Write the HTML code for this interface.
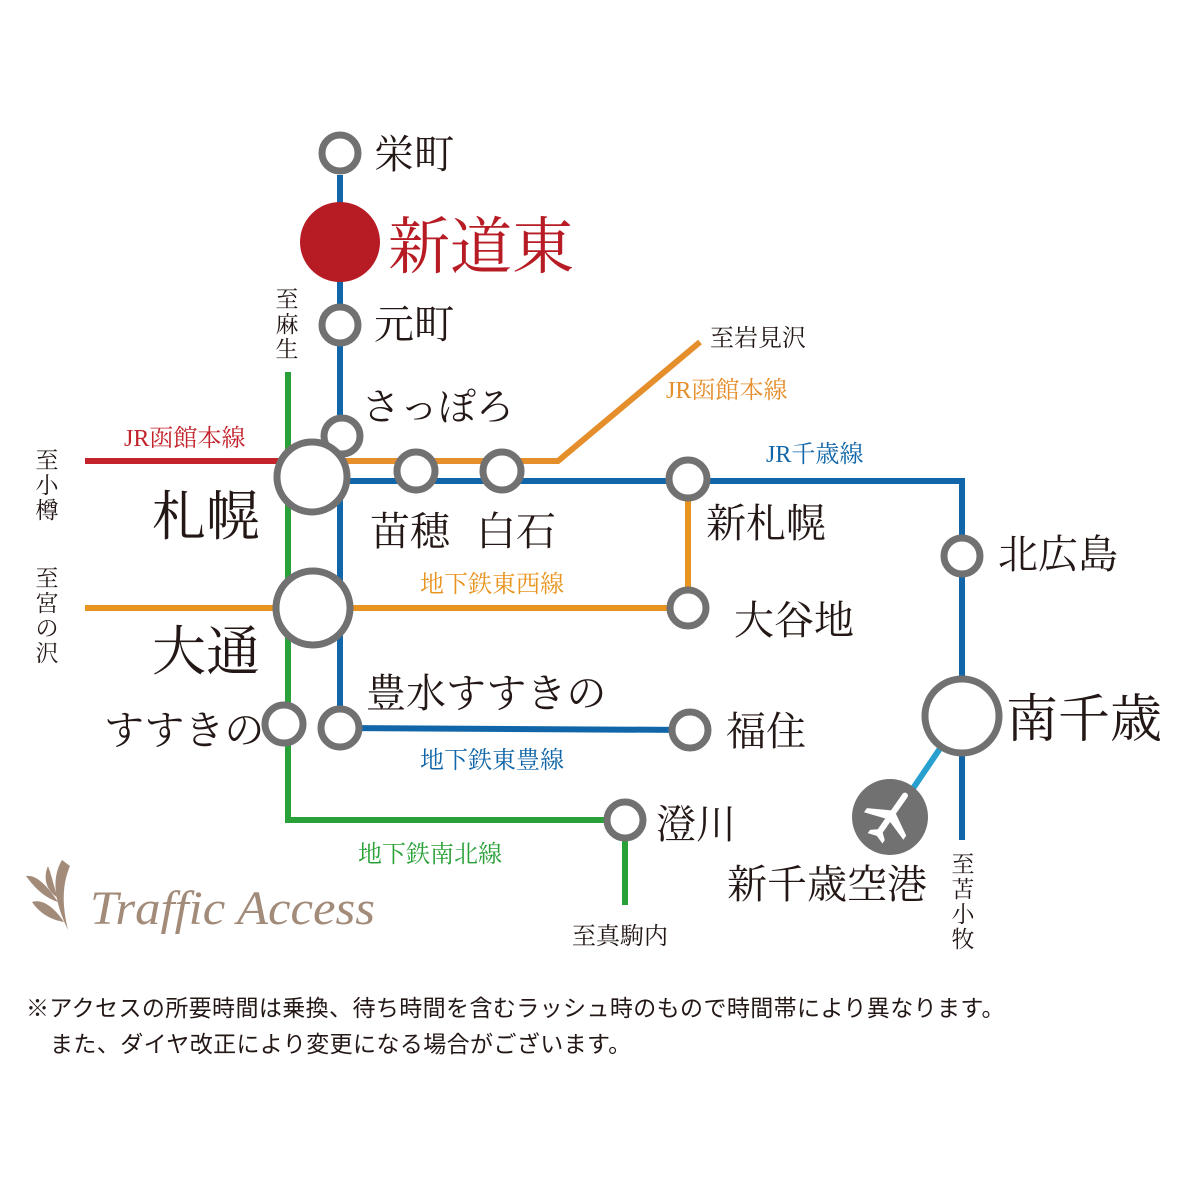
<!DOCTYPE html>
<html><head><meta charset="utf-8"><style>
html,body{margin:0;padding:0;background:#fff}
svg{display:block}
text{font-family:"Liberation Serif","Noto Serif CJK JP","Noto Serif CJK SC",serif;fill:#231815}
</style></head><body>
<svg width="1200" height="1200" viewBox="0 0 1200 1200" xmlns="http://www.w3.org/2000/svg">
<g fill="none" stroke-width="6">
<polyline points="288,372 288,820 625,820 625,905" stroke="#2aa138"/>
<line x1="85" y1="461" x2="285" y2="461" stroke="#c3242b"/>
<polyline points="340,461 558,461 700,342" stroke="#e58e2c"/>
<line x1="85" y1="608" x2="688" y2="608" stroke="#e8941e"/>
<line x1="688" y1="481" x2="688" y2="608" stroke="#e8941e"/>
<polyline points="340,175 340,728 690,730" stroke="#1066a8"/>
<polyline points="340,481 962,481 962,840" stroke="#1066a8"/>
<line x1="962" y1="716" x2="895" y2="815" stroke="#28a0cf"/>
</g>
<g fill="#fff" stroke="#717171" stroke-width="7">
<circle cx="340" cy="153" r="18"/>
<circle cx="340" cy="325" r="18"/>
<circle cx="342" cy="436" r="18"/>
<circle cx="312" cy="477" r="35"/>
<circle cx="416" cy="471" r="19"/>
<circle cx="502" cy="471" r="19"/>
<circle cx="688" cy="479" r="19"/>
<circle cx="688" cy="608" r="18"/>
<circle cx="313" cy="608" r="37"/>
<circle cx="284" cy="724" r="19"/>
<circle cx="340" cy="728" r="19"/>
<circle cx="690" cy="730" r="18"/>
<circle cx="625" cy="820" r="18"/>
<circle cx="962" cy="556" r="18"/>
<circle cx="962" cy="716" r="37"/>
</g>
<circle cx="340" cy="242" r="40" fill="#b71c25"/>
<circle cx="890" cy="817" r="38" fill="#717171"/>
<g transform="translate(890 817) rotate(35)" fill="#fff">
<path d="M-3,-26 C-3,-30 3,-30 3,-26 L3,-6 L24,6 L24,11 L3,4 L3,17 L9,22 L9,26 L0,23 L-9,26 L-9,22 L-3,17 L-3,4 L-24,11 L-24,6 L-3,-6 Z"/>
</g>

<text x="374" y="168" font-size="40">栄町</text>
<text x="388" y="268" font-size="62" style="fill:#b71c25">新道東</text>
<text x="374" y="338" font-size="40">元町</text>
<text x="362" y="420" font-size="38">さっぽろ</text>
<text x="152" y="535" font-size="54">札幌</text>
<text x="370" y="545" font-size="40">苗穂</text>
<text x="476" y="545" font-size="40">白石</text>
<text x="706" y="537" font-size="40">新札幌</text>
<text x="734" y="634" font-size="40">大谷地</text>
<text x="152" y="670" font-size="54">大通</text>
<text x="104" y="744" font-size="40">すすきの</text>
<text x="366" y="707" font-size="40">豊水すすきの</text>
<text x="726" y="745" font-size="40">福住</text>
<text x="656" y="838" font-size="40">澄川</text>
<text x="998" y="568" font-size="40">北広島</text>
<text x="1006" y="737" font-size="52">南千歳</text>
<text x="727" y="898" font-size="40">新千歳空港</text>

<g font-size="24">
<text x="124" y="446" style="fill:#c3242b">JR函館本線</text>
<text x="666" y="398" style="fill:#e58e2c">JR函館本線</text>
<text x="766" y="462" style="fill:#1066a8">JR千歳線</text>
<text x="420" y="592" style="fill:#e8941e">地下鉄東西線</text>
<text x="420" y="768" style="fill:#1066a8">地下鉄東豊線</text>
<text x="358" y="862" style="fill:#2aa138">地下鉄南北線</text>
<text x="710" y="346">至岩見沢</text>
<text x="572" y="944">至真駒内</text>
</g>
<g font-size="23" text-anchor="middle">
<text x="287" y="307">至</text><text x="287" y="332">麻</text><text x="287" y="357">生</text>
<text x="47" y="468">至</text><text x="47" y="493">小</text><text x="47" y="518">樽</text>
<text x="47" y="586">至</text><text x="47" y="611">宮</text><text x="47" y="636">の</text><text x="47" y="661">沢</text>
<text x="963" y="872">至</text><text x="963" y="897">苫</text><text x="963" y="922">小</text><text x="963" y="947">牧</text>
</g>

<g fill="#a38b7a">
<path d="M62,860 C50,880 56,905 68,930 C62,905 62,885 70,866 Z"/>
<path d="M26,876 C38,874 50,890 58,902 C46,898 36,890 26,876 Z"/>
<path d="M32,902 C44,898 56,910 64,922 C52,920 40,914 32,902 Z"/>
<path d="M48,866 C42,880 48,892 58,898 C54,888 52,876 48,866 Z"/>
</g>
<text x="90" y="924" font-size="48" font-style="italic" textLength="285" lengthAdjust="spacingAndGlyphs" style="fill:#a38b7a;font-family:'Liberation Serif',serif">Traffic Access</text>

<text x="26" y="1016" font-size="23" letter-spacing="0.4" style="font-family:'Liberation Sans','Noto Sans CJK JP',sans-serif">※アクセスの所要時間は乗換、待ち時間を含むラッシュ時のもので時間帯により異なります。</text>
<text x="50" y="1052" font-size="23" letter-spacing="0.4" style="font-family:'Liberation Sans','Noto Sans CJK JP',sans-serif">また、ダイヤ改正により変更になる場合がございます。</text>
</svg>
</body></html>
